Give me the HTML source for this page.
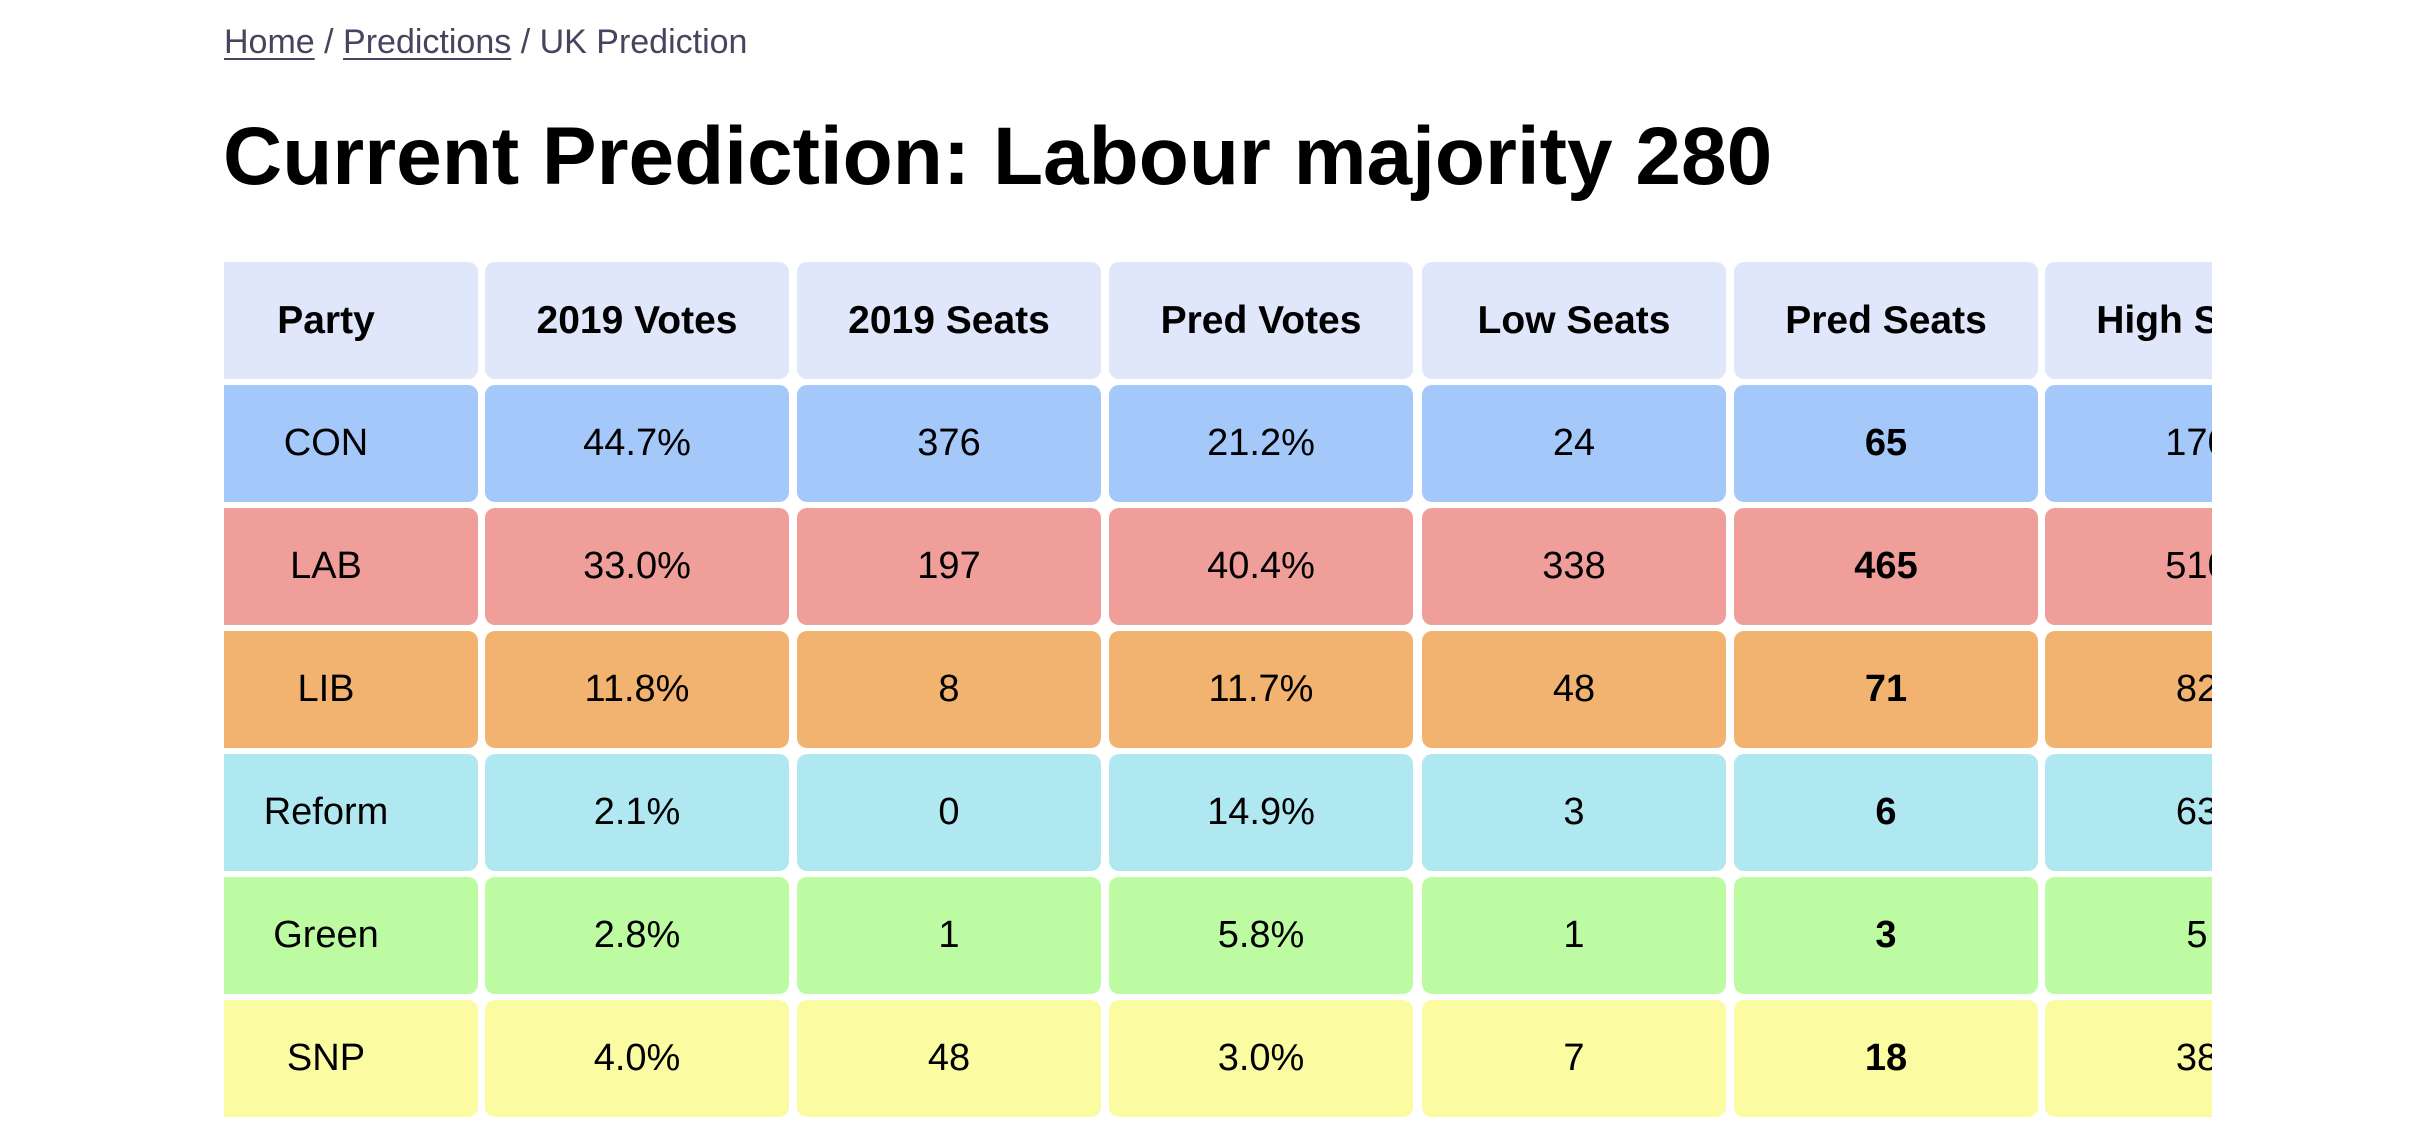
<!DOCTYPE html>
<html><head><meta charset="utf-8"><style>
html,body{margin:0;width:2436px;height:1125px;overflow:hidden}
body{background:#fff;font-family:"Liberation Sans",sans-serif;color:#000;position:relative}
.bc{position:absolute;left:224px;top:23px;font-size:34px;color:#4b4260}
.bc a{color:#4b4260;text-decoration:underline;text-decoration-thickness:2px;text-underline-offset:5px}
h1{position:absolute;left:223px;top:116px;margin:0;font-size:82px;font-weight:bold;letter-spacing:0px;line-height:1}
.clip{position:absolute;left:224px;top:0;width:1988px;height:1125px;overflow:hidden}
.c{position:absolute;height:117px;border-radius:10px;display:flex;align-items:center;justify-content:center;font-size:38px}
.h{font-weight:bold;font-size:39px}
.b{font-weight:bold}
</style></head><body>
<div class="bc"><a>Home</a> / <a>Predictions</a> / UK Prediction</div>
<h1>Current Prediction: Labour majority 280</h1>
<div class="clip" id="t"></div>
<script>
var cols=[-50,261,573,885,1198,1510,1821],w=[304,304,304,304,304,304,304];
var rows=[["Party","2019 Votes","2019 Seats","Pred Votes","Low Seats","Pred Seats","High Seats","#e0e7fb"],
["CON","44.7%","376","21.2%","24","65","170","#a5c8fa"],
["LAB","33.0%","197","40.4%","338","465","510","#f09e9a"],
["LIB","11.8%","8","11.7%","48","71","82","#f3b370"],
["Reform","2.1%","0","14.9%","3","6","63","#b0e8f2"],
["Green","2.8%","1","5.8%","1","3","5","#bdfba2"],
["SNP","4.0%","48","3.0%","7","18","38","#fbfba2"]];
var tops=[262,385,508,631,754,877,1000];
var h="";
rows.forEach(function(r,i){for(var j=0;j<7;j++){
var cls="c"+(i==0?" h":"")+(i>0&&j==5?" b":"");
h+='<div class="'+cls+'" style="left:'+cols[j]+'px;top:'+tops[i]+'px;width:'+w[j]+'px;background:'+r[7]+'">'+r[j]+'</div>';}});
document.getElementById("t").innerHTML=h;
</script>
</body></html>
